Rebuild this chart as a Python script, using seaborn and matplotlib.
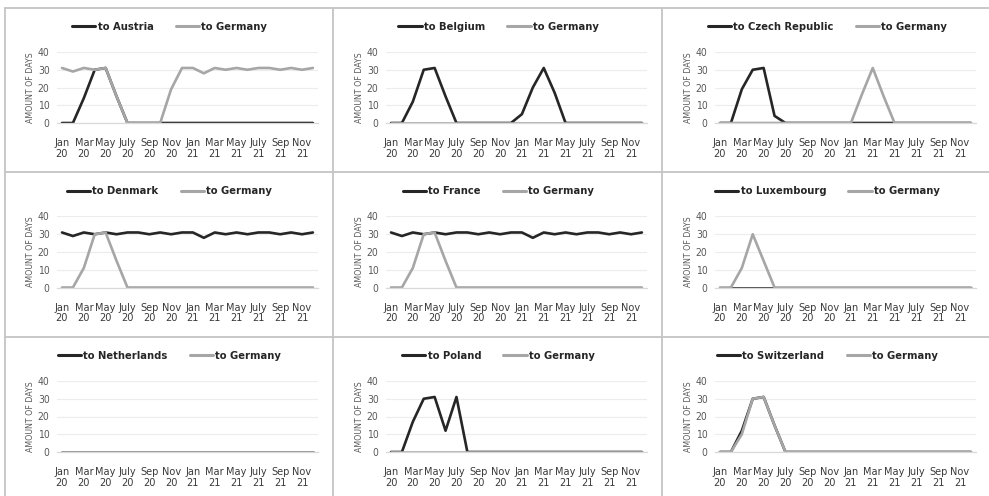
import os
import numpy as np
import pandas as pd
import matplotlib
matplotlib.use("Agg")
import matplotlib.pyplot as plt
import seaborn as sns
from matplotlib.lines import Line2D
from matplotlib import font_manager as fm

# ---------------- data ----------------
months = ["Jan 20", "Feb 20", "Mar 20", "Apr 20", "May 20", "Jun 20", "Jul 20", "Aug 20",
          "Sep 20", "Oct 20", "Nov 20", "Dec 20", "Jan 21", "Feb 21", "Mar 21", "Apr 21",
          "May 21", "Jun 21", "Jul 21", "Aug 21", "Sep 21", "Oct 21", "Nov 21", "Dec 21"]
tick_labels = ["Jan\n20", "Mar\n20", "May\n20", "July\n20", "Sep\n20", "Nov\n20",
               "Jan\n21", "Mar\n21", "May\n21", "July\n21", "Sep\n21", "Nov\n21"]
y_ticks = [0, 10, 20, 30, 40]

countries = ["Austria", "Belgium", "Czech Republic", "Denmark", "France",
             "Luxembourg", "Netherlands", "Poland", "Switzerland"]

austria_out = [0, 0, 14, 30, 31, 15, 0, 0, 0, 0, 0, 0, 0, 0, 0, 0, 0, 0, 0, 0, 0, 0, 0, 0]
austria_de = [31, 29, 31, 30, 31, 15, 0, 0, 0, 0, 19, 31, 31, 28, 31, 30, 31, 30, 31, 31, 30, 31, 30, 31]
belgium_out = [0, 0, 12, 30, 31, 15, 0, 0, 0, 0, 0, 0, 5, 20, 31, 17, 0, 0, 0, 0, 0, 0, 0, 0]
belgium_de = [0, 0, 0, 0, 0, 0, 0, 0, 0, 0, 0, 0, 0, 0, 0, 0, 0, 0, 0, 0, 0, 0, 0, 0]
czech_out = [0, 0, 19, 30, 31, 4, 0, 0, 0, 0, 0, 0, 0, 0, 0, 0, 0, 0, 0, 0, 0, 0, 0, 0]
czech_de = [0, 0, 0, 0, 0, 0, 0, 0, 0, 0, 0, 0, 0, 16, 31, 15, 0, 0, 0, 0, 0, 0, 0, 0]
denmark_out = [31, 29, 31, 30, 31, 30, 31, 31, 30, 31, 30, 31, 31, 28, 31, 30, 31, 30, 31, 31, 30, 31, 30, 31]
denmark_de = [0, 0, 11, 30, 31, 15, 0, 0, 0, 0, 0, 0, 0, 0, 0, 0, 0, 0, 0, 0, 0, 0, 0, 0]
france_out = [31, 29, 31, 30, 31, 30, 31, 31, 30, 31, 30, 31, 31, 28, 31, 30, 31, 30, 31, 31, 30, 31, 30, 31]
france_de = [0, 0, 11, 30, 31, 15, 0, 0, 0, 0, 0, 0, 0, 0, 0, 0, 0, 0, 0, 0, 0, 0, 0, 0]
luxembourg_out = [0, 0, 0, 0, 0, 0, 0, 0, 0, 0, 0, 0, 0, 0, 0, 0, 0, 0, 0, 0, 0, 0, 0, 0]
luxembourg_de = [0, 0, 11, 30, 15, 0, 0, 0, 0, 0, 0, 0, 0, 0, 0, 0, 0, 0, 0, 0, 0, 0, 0, 0]
netherlands_out = [0, 0, 0, 0, 0, 0, 0, 0, 0, 0, 0, 0, 0, 0, 0, 0, 0, 0, 0, 0, 0, 0, 0, 0]
netherlands_de = [0, 0, 0, 0, 0, 0, 0, 0, 0, 0, 0, 0, 0, 0, 0, 0, 0, 0, 0, 0, 0, 0, 0, 0]
poland_out = [0, 0, 17, 30, 31, 12, 31, 0, 0, 0, 0, 0, 0, 0, 0, 0, 0, 0, 0, 0, 0, 0, 0, 0]
poland_de = [0, 0, 0, 0, 0, 0, 0, 0, 0, 0, 0, 0, 0, 0, 0, 0, 0, 0, 0, 0, 0, 0, 0, 0]
switzerland_out = [0, 0, 12, 30, 31, 15, 0, 0, 0, 0, 0, 0, 0, 0, 0, 0, 0, 0, 0, 0, 0, 0, 0, 0]
switzerland_de = [0, 0, 10, 30, 31, 15, 0, 0, 0, 0, 0, 0, 0, 0, 0, 0, 0, 0, 0, 0, 0, 0, 0, 0]

series_out = [austria_out, belgium_out, czech_out, denmark_out, france_out,
              luxembourg_out, netherlands_out, poland_out, switzerland_out]
series_de = [austria_de, belgium_de, czech_de, denmark_de, france_de,
             luxembourg_de, netherlands_de, poland_de, switzerland_de]

# ---------------- fonts: look for a condensed face ----------------
sns.set_theme(style="white")
plt.rcParams["font.family"] = ["DejaVu Sans"]


def find_condensed(bold):
    prefs = ["liberationsansnarrow", "dejavusanscondensed", "robotocondensed",
             "opensanscondensed", "notosanscondensed", "condensed", "narrow"]
    best = None
    best_rank = 99
    for f in fm.fontManager.ttflist:
        base = os.path.basename(f.fname).lower().replace("-", "").replace("_", "")
        if "italic" in base or "oblique" in base:
            continue
        is_bold = ("bold" in base) and ("semibold" not in base) and ("extrabold" not in base)
        if bold != is_bold:
            continue
        if not bold and any(k in base for k in ["light", "thin", "medium", "black", "semibold"]):
            continue
        for rank, p in enumerate(prefs):
            if p in base:
                if rank < best_rank:
                    best_rank = rank
                    best = f.fname
                break
    return best


reg_path = find_condensed(False)
bold_path = find_condensed(True)
HAVE_COND = reg_path is not None and bold_path is not None
if HAVE_COND:
    F_REG = lambda s: fm.FontProperties(fname=reg_path, size=s)
    F_BOLD = lambda s: fm.FontProperties(fname=bold_path, size=s)
    XT, YT, YL, LG = 7.8, 7.5, 6.3, 8
else:
    F_REG = lambda s: fm.FontProperties(family="DejaVu Sans", stretch="condensed", size=s)
    F_BOLD = lambda s: fm.FontProperties(family="DejaVu Sans", stretch="condensed",
                                         weight="bold", size=s)
    XT, YT, YL, LG = 7, 7, 5.5, 7.5

DARK = "#262626"
GREY = "#a6a6a6"
BORDER = "#c4c4c4"

W, H = 989, 496
fig = plt.figure(figsize=(W / 100, H / 100), dpi=100)
fig.patch.set_facecolor("white")


def fx(px):
    return px / W


def fy(py):
    return 1 - py / H


col_pitch = 329
row_pitch = 164.5
spacing = 10.91

for i, country in enumerate(countries):
    r, c = divmod(i, 3)
    left_px = 62 - 0.5 * spacing + col_pitch * c
    width_px = 24 * spacing
    top_px = 52 + row_pitch * r
    bot_px = 123 + row_pitch * r
    ax = fig.add_axes([fx(left_px), fy(bot_px), fx(width_px), (bot_px - top_px) / H])

    lab_out = f"to {country}"
    lab_de = "to Germany"
    df = pd.DataFrame({
        "month": list(range(len(months))) * 2,
        "days": series_out[i] + series_de[i],
        "series": [lab_out] * len(months) + [lab_de] * len(months),
    })
    sns.lineplot(data=df, x="month", y="days", hue="series",
                 hue_order=[lab_out, lab_de], palette=[DARK, GREY],
                 linewidth=1.9, ax=ax, legend=False)

    ax.set_xlim(-0.5, 23.5)
    ax.set_ylim(0, 40)
    ax.set_yticks(y_ticks)
    ax.set_yticklabels([str(v) for v in y_ticks], color="#595959", fontproperties=F_REG(YT))
    ax.set_xticks(list(range(0, 24, 2)))
    ax.set_xticklabels(tick_labels, color="#3a3a3a", linespacing=1.05,
                       fontproperties=F_REG(XT))
    ax.set_xticks([k + 0.5 for k in range(-1, 24)], minor=True)
    ax.tick_params(axis="x", which="major", length=0, pad=11)
    ax.tick_params(axis="x", which="minor", length=3, direction="inout",
                   color="#d9d9d9", width=0.8)
    ax.tick_params(axis="y", length=0, pad=5)
    ax.grid(axis="y", color="#ececec", linewidth=0.8)
    ax.set_axisbelow(True)
    for s in ["top", "right", "left"]:
        ax.spines[s].set_visible(False)
    ax.spines["bottom"].set_color("#d9d9d9")
    ax.spines["bottom"].set_linewidth(0.9)
    ax.set_xlabel("")
    ax.set_ylabel("AMOUNT OF DAYS", color="#595959", labelpad=2, fontproperties=F_REG(YL))

    handles = [Line2D([0], [0], color=DARK, lw=2.2), Line2D([0], [0], color=GREY, lw=2.2)]
    panel_cx = 5 + col_pitch * c + col_pitch / 2
    leg = fig.legend(handles, [lab_out, lab_de], loc="center",
                     bbox_to_anchor=(fx(panel_cx), fy(27 + row_pitch * r)),
                     ncol=2, frameon=False, handlelength=2.1, handletextpad=0.2,
                     columnspacing=2.0, prop=F_BOLD(LG))
    for t in leg.get_texts():
        t.set_color("#262626")


# panel borders
def hline(y, x0=5, x1=W):
    fig.add_artist(Line2D([fx(x0), fx(x1)], [fy(y), fy(y)], color=BORDER, lw=1.3))


def vline(x, y0=8, y1=H):
    fig.add_artist(Line2D([fx(x), fx(x)], [fy(y0), fy(y1)], color=BORDER, lw=1.3))


hline(8)
hline(172)
hline(337)
vline(5)
vline(333)
vline(662)

fig.savefig("out.png", dpi=100, facecolor="white")
